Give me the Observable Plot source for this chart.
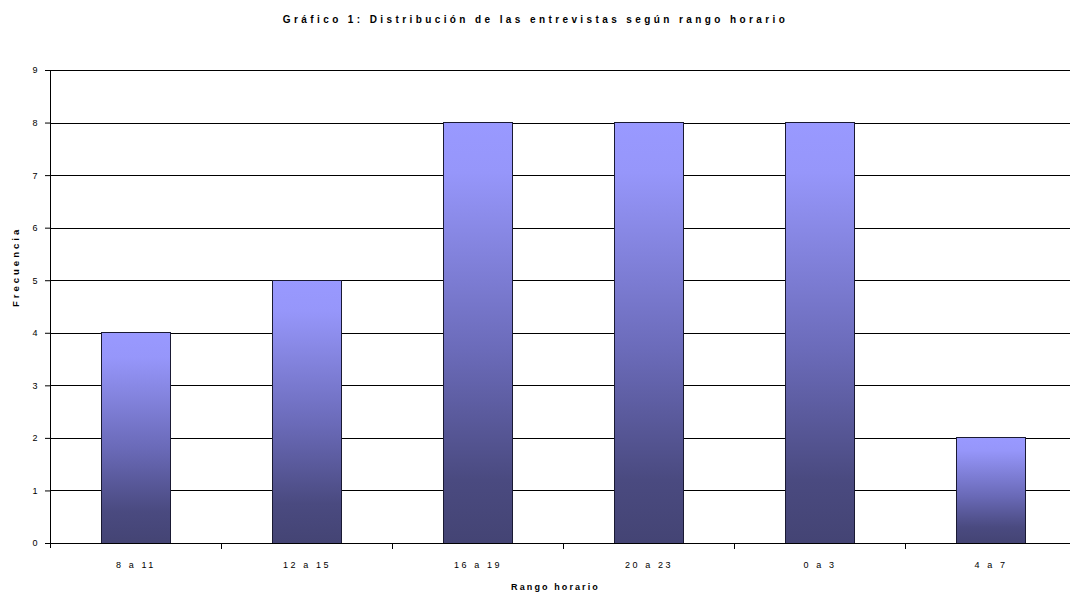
<!DOCTYPE html>
<html>
<head>
<meta charset="utf-8">
<script src="https://cdn.jsdelivr.net/npm/d3@7"></script>
<script src="https://cdn.jsdelivr.net/npm/@observablehq/plot@0.6"></script>
<style>
  html, body { margin: 0; padding: 0; background: #fff; overflow: hidden; }
  #chart svg { display: block; max-width: none !important; }
</style>
</head>
<body>
<div id="chart"></div>
<script>
const titleText = "Gráfico 1: Distribución de las entrevistas según rango horario";
const xLabel = "Rango horario";
const yLabel = "Frecuencia";
const categories = ["8 a 11", "12 a 15", "16 a 19", "20 a 23", "0 a 3", "4 a 7"];
const values = [4, 5, 8, 8, 8, 2];
const yTicks = [0, 1, 2, 3, 4, 5, 6, 7, 8, 9];

const data = categories.map((c, i) => ({category: c, value: values[i]}));
const font = "'Liberation Sans', Arial, sans-serif";

// y axis line and category boundary ticks, computed from the scales
function axisLines(index, scales, values, dims) {
  const x = scales.x, y = scales.y;
  const step = x(categories[1]) - x(categories[0]);
  const g = d3.create("svg:g").attr("stroke", "#000").attr("stroke-width", 1).attr("shape-rendering", "crispEdges");
  const y0 = Math.round(y(0)) + 0.5;
  const xl = dims.marginLeft + 0.5;
  g.append("line").attr("x1", xl).attr("x2", xl).attr("y1", Math.round(y(9))).attr("y2", y0 + 4);
  for (let k = 1; k <= categories.length; k++) {
    const xx = Math.round(dims.marginLeft + k * step) + 0.5;
    g.append("line").attr("x1", xx).attr("x2", xx).attr("y1", y0).attr("y2", y0 + 5);
  }
  return g.node();
}

const plot = Plot.plot({
  width: 1078,
  height: 596,
  marginLeft: 50,
  marginRight: 2,
  marginTop: 70,
  marginBottom: 53,
  style: {fontFamily: font, fontSize: "9px", color: "#000", background: "#fff", maxWidth: "none"},
  x: {domain: categories, paddingInner: 0.595, paddingOuter: 0.2975, label: null},
  y: {domain: [0, 9], label: null},
  marks: [
    Plot.ruleY(yTicks, {stroke: "#000", strokeWidth: 1, shapeRendering: "crispEdges"}),
    Plot.barY(data, {x: "category", y: "value", fill: "url(#barGrad)", stroke: "#1a1a33", strokeWidth: 1, shapeRendering: "crispEdges"}),
    Plot.axisY({ticks: yTicks, tickSize: 5, tickPadding: 8, tickFormat: d => String(d), fontSize: 9, label: null}),
    Plot.axisX({tickSize: 0, tickPadding: 18, fontSize: 9, label: null}),
    axisLines,
    Plot.ruleY([0], {stroke: "#000", strokeWidth: 1, shapeRendering: "crispEdges"}),
    Plot.text([titleText], {frameAnchor: "top", dy: -55, dx: -28, fontWeight: "bold", fontSize: 10, text: d => d}),
    Plot.text([xLabel], {frameAnchor: "bottom", dy: 46, dx: -8, fontWeight: "bold", fontSize: 9, text: d => d}),
    Plot.text([yLabel], {frameAnchor: "left", dx: -35, rotate: -90, fontWeight: "bold", fontSize: 9.5, text: d => d})
  ]
});

const svg = d3.select(plot);
// letter spacing as in the reference
svg.selectAll("text").each(function() {
  const t = d3.select(this);
  const s = t.text();
  if (s === titleText) t.style("letter-spacing", "3.4px");
  else if (s === xLabel) t.style("letter-spacing", "2.1px");
  else if (s === yLabel) t.style("letter-spacing", "3px");
  else if (categories.includes(s)) t.style("letter-spacing", "2.6px");
});

const defs = svg.insert("defs", ":first-child");
const grad = defs.append("linearGradient").attr("id", "barGrad")
  .attr("x1", 0).attr("y1", 0).attr("x2", 0).attr("y2", 1);
grad.append("stop").attr("offset", "0%").attr("stop-color", "#9999ff");
grad.append("stop").attr("offset", "12%").attr("stop-color", "#9696fa");
grad.append("stop").attr("offset", "55%").attr("stop-color", "#6a6ab8");
grad.append("stop").attr("offset", "85%").attr("stop-color", "#4a4a80");
grad.append("stop").attr("offset", "100%").attr("stop-color", "#444474");

document.getElementById("chart").appendChild(plot);
</script>
</body>
</html>
